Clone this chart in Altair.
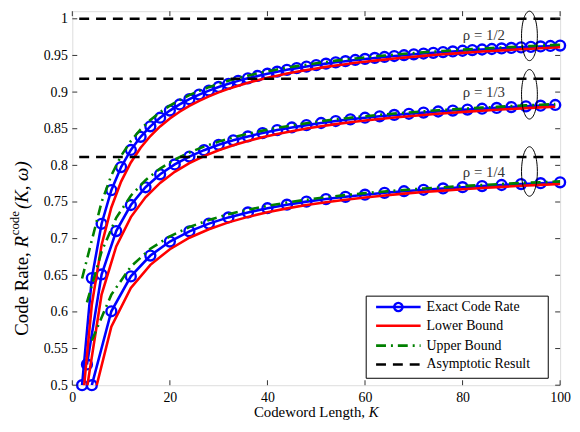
import altair as alt
import pandas as pd

# ---------------- data ----------------
K_half = [2, 4, 6, 8, 10, 12, 14, 16, 18, 20, 22, 24, 26, 28, 30, 32, 34, 36, 38, 40,
          42, 44, 46, 48, 50, 52, 54, 56, 58, 60, 62, 64, 66, 68, 70, 72, 74, 76, 78, 80,
          82, 84, 86, 88, 90, 92, 94, 96, 98, 100]
exact_half = [0.5000, 0.6462, 0.7203, 0.7662, 0.7977, 0.8210, 0.8389, 0.8533, 0.8650, 0.8748,
              0.8831, 0.8903, 0.8966, 0.9020, 0.9070, 0.9113, 0.9153, 0.9188, 0.9221, 0.9251,
              0.9278, 0.9304, 0.9327, 0.9348, 0.9369, 0.9388, 0.9406, 0.9422, 0.9438, 0.9452,
              0.9466, 0.9479, 0.9492, 0.9503, 0.9515, 0.9526, 0.9536, 0.9546, 0.9555, 0.9564,
              0.9573, 0.9581, 0.9588, 0.9596, 0.9603, 0.9610, 0.9617, 0.9623, 0.9629, 0.9635]
lower_half = [0.4701, 0.6101, 0.6913, 0.7425, 0.7779, 0.8040, 0.8241, 0.8400, 0.8531, 0.8640,
              0.8732, 0.8812, 0.8881, 0.8941, 0.8996, 0.9044, 0.9087, 0.9126, 0.9162, 0.9195,
              0.9224, 0.9252, 0.9278, 0.9301, 0.9323, 0.9344, 0.9364, 0.9381, 0.9399, 0.9414,
              0.9429, 0.9443, 0.9457, 0.9470, 0.9482, 0.9494, 0.9505, 0.9515, 0.9525, 0.9535,
              0.9544, 0.9553, 0.9561, 0.9569, 0.9577, 0.9585, 0.9592, 0.9599, 0.9605, 0.9612]
upper_half = [0.6456, 0.6978, 0.7498, 0.7864, 0.8130, 0.8333, 0.8492, 0.8619, 0.8726, 0.8815,
              0.8891, 0.8958, 0.9016, 0.9067, 0.9113, 0.9154, 0.9190, 0.9224, 0.9255, 0.9282,
              0.9308, 0.9332, 0.9354, 0.9374, 0.9393, 0.9411, 0.9429, 0.9444, 0.9459, 0.9473,
              0.9486, 0.9498, 0.9511, 0.9522, 0.9532, 0.9543, 0.9552, 0.9561, 0.9570, 0.9579,
              0.9587, 0.9595, 0.9602, 0.9609, 0.9616, 0.9623, 0.9629, 0.9635, 0.9641, 0.9647]

K_third = [3, 6, 9, 12, 15, 18, 21, 24, 27, 30, 33, 36, 39, 42, 45, 48, 51, 54, 57, 60,
           63, 66, 69, 72, 75, 78, 81, 84, 87, 90, 93, 96, 99]
exact_third = [0.5283, 0.6511, 0.7103, 0.7459, 0.7701, 0.7878, 0.8013, 0.8120, 0.8207, 0.8280,
               0.8342, 0.8395, 0.8441, 0.8482, 0.8517, 0.8549, 0.8578, 0.8605, 0.8628, 0.8650,
               0.8669, 0.8688, 0.8704, 0.8720, 0.8735, 0.8748, 0.8761, 0.8773, 0.8784, 0.8795,
               0.8805, 0.8815, 0.8824]
lower_third = [0.4959, 0.6237, 0.6894, 0.7294, 0.7564, 0.7761, 0.7912, 0.8030, 0.8126, 0.8207,
               0.8275, 0.8333, 0.8384, 0.8428, 0.8467, 0.8502, 0.8534, 0.8563, 0.8588, 0.8612,
               0.8633, 0.8654, 0.8671, 0.8688, 0.8705, 0.8719, 0.8733, 0.8746, 0.8758, 0.8770,
               0.8781, 0.8791, 0.8800]
upper_third = [0.6129, 0.6822, 0.7284, 0.7586, 0.7798, 0.7956, 0.8079, 0.8176, 0.8256, 0.8324,
               0.8382, 0.8431, 0.8474, 0.8512, 0.8545, 0.8575, 0.8603, 0.8628, 0.8650, 0.8671,
               0.8689, 0.8707, 0.8722, 0.8737, 0.8752, 0.8764, 0.8776, 0.8788, 0.8798, 0.8809,
               0.8819, 0.8827, 0.8836]

K_quarter = [4, 8, 12, 16, 20, 24, 28, 32, 36, 40, 44, 48, 52, 56, 60, 64, 68, 72, 76, 80,
             84, 88, 92, 96, 100]
exact_quarter = [0.5000, 0.6009, 0.6485, 0.6769, 0.6960, 0.7100, 0.7205, 0.7290, 0.7358, 0.7415,
                 0.7463, 0.7505, 0.7540, 0.7571, 0.7600, 0.7625, 0.7647, 0.7667, 0.7685, 0.7702,
                 0.7717, 0.7732, 0.7745, 0.7757, 0.7768]
lower_quarter = [0.4732, 0.5798, 0.6326, 0.6643, 0.6856, 0.7012, 0.7128, 0.7222, 0.7297, 0.7360,
                 0.7413, 0.7458, 0.7497, 0.7531, 0.7562, 0.7589, 0.7614, 0.7636, 0.7655, 0.7674,
                 0.7690, 0.7706, 0.7721, 0.7734, 0.7746]
upper_quarter = [0.5610, 0.6236, 0.6619, 0.6862, 0.7032, 0.7158, 0.7254, 0.7332, 0.7395, 0.7447,
                 0.7493, 0.7531, 0.7565, 0.7594, 0.7621, 0.7644, 0.7665, 0.7684, 0.7701, 0.7718,
                 0.7732, 0.7746, 0.7759, 0.7770, 0.7781]

asymptotic_rates = [1.0, 0.9183, 0.8113]
rho_labels = ["\u03c1 = 1/2", "\u03c1 = 1/3", "\u03c1 = 1/4"]
legend_labels = ["Exact Code Rate", "Lower Bound", "Upper Bound", "Asymptotic Result"]
x_ticks = [0, 20, 40, 60, 80, 100]
y_ticks = [0.5, 0.55, 0.6, 0.65, 0.7, 0.75, 0.8, 0.85, 0.9, 0.95, 1.0]

# ---------------- tidy table ----------------
rows = []
groups = [("1/2", K_half, exact_half, lower_half, upper_half),
          ("1/3", K_third, exact_third, lower_third, upper_third),
          ("1/4", K_quarter, exact_quarter, lower_quarter, upper_quarter)]
for rho, Ks, ex, lo, up in groups:
    for k, e, l, u in zip(Ks, ex, lo, up):
        rows.append({"K": k, "rho": rho, "series": "exact", "rate": e})
        rows.append({"K": k, "rho": rho, "series": "lower", "rate": l})
        rows.append({"K": k, "rho": rho, "series": "upper", "rate": u})
df = pd.DataFrame(rows)

W, H = 493, 378
FONT = "Liberation Serif"
BLUE, RED, GREEN = "#0000FF", "#FF0000", "#008000"

xs = alt.Scale(domain=[0, 100], nice=False, zero=False)
ys = alt.Scale(domain=[0.5, 1.0104], nice=False, zero=False)

x_axis = alt.Axis(values=x_ticks, ticks=False, domain=False, grid=False, labelFont=FONT,
                  labelFontSize=14, labelColor="black", labelPadding=5, labelFlush=False,
                  labelOverlap=False, title=None)
y_axis = alt.Axis(values=y_ticks, format="~g", ticks=False, domain=False, grid=False,
                  labelFont=FONT, labelFontSize=14, labelColor="black", labelPadding=5,
                  labelOverlap=False, title=None)

X = alt.X("K:Q", scale=xs, axis=x_axis)
Y = alt.Y("rate:Q", scale=ys, axis=y_axis)

base = alt.Chart(df)


def sel(name):
    return base.transform_filter(alt.datum.series == name)


exact_line = sel("exact").mark_line(color=BLUE, strokeWidth=2.6, clip=True).encode(
    x=X, y=Y, detail="rho:N")
exact_pts = sel("exact").mark_point(shape="circle", filled=False, size=100, strokeWidth=2.4,
                                     color=BLUE, opacity=1).encode(x=X, y=Y)
lower_line = sel("lower").mark_line(color=RED, strokeWidth=2.6, clip=True).encode(
    x=X, y=Y, detail="rho:N")
upper_line = sel("upper").mark_line(color=GREEN, strokeWidth=2.6, clip=True,
                                     strokeDash=[10, 5, 2, 5]).encode(x=X, y=Y, detail="rho:N")
asym = alt.Chart(pd.DataFrame({"rate": asymptotic_rates})).mark_rule(
    color="black", strokeWidth=2.6, strokeDash=[10, 7]).encode(y=Y)

# inward tick marks on all four sides
xt = alt.Chart(pd.DataFrame({"K": x_ticks}))
yt = alt.Chart(pd.DataFrame({"rate": y_ticks}))
tick_style = dict(color="#333333", strokeWidth=1)
ticks = [
    xt.mark_rule(**tick_style).encode(x=X, y=alt.value(H), y2=alt.value(H - 5)),
    xt.mark_rule(**tick_style).encode(x=X, y=alt.value(0), y2=alt.value(5)),
    yt.mark_rule(**tick_style).encode(y=Y, x=alt.value(0), x2=alt.value(5)),
    yt.mark_rule(**tick_style).encode(y=Y, x=alt.value(W), x2=alt.value(W - 5)),
]


def txt(s, x, y, size=15, style="normal", angle=0, align="left", baseline="alphabetic",
        color="black"):
    return alt.Chart(pd.DataFrame({"s": [s]})).mark_text(
        font=FONT, fontSize=size, fontStyle=style, angle=angle, align=align,
        baseline=baseline, color=color).encode(x=alt.value(x), y=alt.value(y), text="s:N")


one = pd.DataFrame({"a": [0]})

# ---------------- annotations: ellipses and rho labels ----------------
ellipse_path = "M0,-1A0.32,1,0,1,1,0,1A0.32,1,0,1,1,0,-1Z"
annos = []
for lab, ey, ty in zip(rho_labels, [25, 84, 162], [24, 82, 163]):
    annos.append(alt.Chart(one).mark_point(shape=ellipse_path, size=2500, filled=False,
                                           color="black", strokeWidth=1, opacity=1)
                 .encode(x=alt.value(462), y=alt.value(ey)))
    annos.append(txt(lab, 416, ty, size=15, align="center", baseline="middle", color="#333333"))

# ---------------- legend ----------------
leg = [alt.Chart(one).mark_rect(fill="white", stroke="black", strokeWidth=1).encode(
    x=alt.value(297), x2=alt.value(481), y=alt.value(288), y2=alt.value(371))]
ly = [299, 318, 338, 357]
styles = [dict(color=BLUE), dict(color=RED), dict(color=GREEN, strokeDash=[10, 5, 2, 5]),
          dict(color="black", strokeDash=[10, 7])]
for lab, yy, st in zip(legend_labels, ly, styles):
    leg.append(alt.Chart(one).mark_rule(strokeWidth=2.6, **st).encode(
        x=alt.value(307), x2=alt.value(352), y=alt.value(yy)))
    leg.append(txt(lab, 358, yy, size=14, baseline="middle"))
leg.append(alt.Chart(one).mark_point(shape="circle", filled=False, size=70, strokeWidth=2.4,
                                     color=BLUE, opacity=1).encode(x=alt.value(329.5), y=alt.value(299)))

# ---------------- axis titles ----------------
titles = [
    txt("Codeword Length, ", 183.5, 410, size=15),
    txt("K", 299.5, 410, size=15, style="italic"),
    txt("Code Rate, ", -51, 328, size=19, angle=270, baseline="middle"),
    txt("R", -51, 238.8, size=19, style="italic", angle=270, baseline="middle"),
    txt("code", -58, 226.5, size=13, angle=270, baseline="middle"),
    txt("(K, \u03c9)", -51, 200, size=19, style="italic", angle=270, baseline="middle"),
]

chart = alt.layer(
    exact_line, exact_pts, lower_line, upper_line, asym, *ticks, *annos, *leg, *titles
).properties(
    width=W, height=H,
    autosize=alt.AutoSizeParams(type="none"),
    padding={"left": 65, "top": 1, "right": 12, "bottom": 37},
).configure_view(stroke="black", strokeWidth=1).configure(background="white")

chart.save("out.html", embed_options={"renderer": "svg", "actions": False})
